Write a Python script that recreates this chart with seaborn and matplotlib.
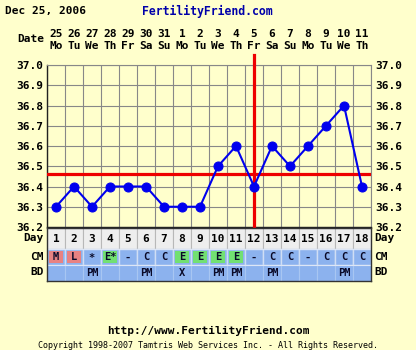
import matplotlib
matplotlib.use("Agg")
import matplotlib.pyplot as plt
import seaborn as sns
import numpy as np
import pandas as pd

# ---------------- data ----------------
days = list(range(1, 19))
dates = [25, 26, 27, 28, 29, 30, 31, 1, 2, 3, 4, 5, 6, 7, 8, 9, 10, 11]
weekdays = ["Mo", "Tu", "We", "Th", "Fr", "Sa", "Su", "Mo", "Tu", "We",
            "Th", "Fr", "Sa", "Su", "Mo", "Tu", "We", "Th"]
temps = [36.3, 36.4, 36.3, 36.4, 36.4, 36.4, 36.3, 36.3, 36.3, 36.5,
         36.6, 36.4, 36.6, 36.5, 36.6, 36.7, 36.8, 36.4]
cm = ["M", "L", "*", "E*", "-", "C", "C", "E", "E", "E", "E", "-",
      "C", "C", "-", "C", "C", "C"]
bd = ["", "", "PM", "", "", "PM", "", "X", "", "PM", "PM", "", "PM",
      "", "", "", "PM", ""]
coverline = 36.46
ovulation_day = 12
ytick_vals = [36.2, 36.3, 36.4, 36.5, 36.6, 36.7, 36.8, 36.9, 37.0]
title_date = "Dec 25, 2006"
site = "FertilityFriend.com"
footer_url = "http://www.FertilityFriend.com"
footer_copy = "Copyright 1998-2007 Tamtris Web Services Inc. - All Rights Reserved."

# ---------------- styling ----------------
BG = "#FFFFCC"
MONO = "DejaVu Sans Mono"
W, H = 416, 350
plt.rcParams["font.family"] = [MONO]

fig = plt.figure(figsize=(W / 100, H / 100), dpi=100)
fig.patch.set_facecolor(BG)

# main temperature chart
ax = fig.add_axes([47 / W, 1 - 227 / H, 324 / W, 162 / H])
ax.set_facecolor(BG)
df = pd.DataFrame({"day": days, "temp": temps})
sns.lineplot(data=df, x="day", y="temp", ax=ax, color="#0000EE",
             linewidth=1.5, marker="o", markersize=6.5,
             markeredgecolor="#0000EE", zorder=5)
ax.set_xlim(0.5, 18.5)
ax.set_ylim(36.2, 37.0)
ax.set_xlabel("")
ax.set_ylabel("")

ax.axhline(coverline, color="#EE0000", linewidth=2.3, zorder=4)
ax.axvline(ovulation_day, ymin=0, ymax=1 + 10 / 162, color="#EE0000",
           linewidth=2.3, zorder=4, clip_on=False)

ax.set_yticks(ytick_vals)
ax.set_yticklabels([f"{v:.1f}" for v in ytick_vals], fontsize=8,
                   fontweight="bold", family=MONO)
ax.tick_params(axis="y", which="both", length=0, pad=3,
               labelleft=True, labelright=True)
ax.set_xticks(days)
ax.set_xticklabels([f"{d}\n{w}" for d, w in zip(dates, weekdays)],
                   fontsize=8, fontweight="bold", family=MONO,
                   linespacing=1.3)
ax.xaxis.tick_top()
ax.tick_params(axis="x", which="both", length=0, pad=10)
ax.set_xticks(np.arange(0.5, 19, 1), minor=True)
ax.grid(which="minor", axis="x", color="#888888", linewidth=0.8)
ax.grid(which="major", axis="y", color="#888888", linewidth=0.8)
ax.grid(which="major", axis="x", visible=False)
ax.set_axisbelow(True)
for s in ["top", "right"]:
    ax.spines[s].set_color("#888888")
    ax.spines[s].set_linewidth(0.8)
for s in ["left", "bottom"]:
    ax.spines[s].set_color("#222222")
    ax.spines[s].set_linewidth(1.0)

# table rows
tx = fig.add_axes([47 / W, 1 - 281 / H, 324 / W, 53 / H])
tx.set_xlim(0.5, 18.5)
tx.set_ylim(53, 0)
tx.set_facecolor("#EEEEEE")
tx.set_xticks([])
tx.set_yticks([])
for s in tx.spines.values():
    s.set_color("#333333")
    s.set_linewidth(1.0)

BLUE = "#8CB2EE"
cm_colors = {"M": "#E88282", "L": "#E88282", "E": "#72E072", "E*": "#72E072"}

tx.bar(days, 21, bottom=0, width=1, color="#EEEEEE", edgecolor="#B8B8B8",
       linewidth=0.8)
tx.bar(days, 16, bottom=21, width=1, color=BLUE, edgecolor="#D0DEF4",
       linewidth=1.0)
special = [i for i, c in enumerate(cm) if c in cm_colors]
tx.bar([days[i] for i in special], 12, bottom=23, width=0.82,
       color=[cm_colors[cm[i]] for i in special], linewidth=0)
tx.bar(days, 16, bottom=37, width=1, color=BLUE, edgecolor="#A8C6F2",
       linewidth=0.8)
tx.axhline(21, color="#DDE6F6", linewidth=0.8)
tx.axhline(37, color="#DDE6F6", linewidth=0.8)

for d, c, b in zip(days, cm, bd):
    tx.text(d, 11, str(d), ha="center", va="center", fontsize=8,
            fontweight="bold", family=MONO)
    tx.text(d, 29.5, c, ha="center", va="center", fontsize=7.5,
            fontweight="bold", family=MONO, color="#0A0A28")
    if b:
        tx.text(d, 45.5, b, ha="center", va="center", fontsize=7.5,
                fontweight="bold", family=MONO, color="#0A0A28")

# row labels
def fy(py):
    return 1 - py / H

for label, py in [("Day", 238), ("CM", 257), ("BD", 272)]:
    fig.text(44 / W, fy(py), label, ha="right", va="center", fontsize=8,
             fontweight="bold", family=MONO)
    fig.text(374 / W, fy(py), label, ha="left", va="center", fontsize=8,
             fontweight="bold", family=MONO)
fig.text(44 / W, fy(39), "Date", ha="right", va="center", fontsize=8,
         fontweight="bold", family=MONO)

# header
fig.text(5 / W, fy(11), title_date, ha="left", va="center", fontsize=8,
         fontweight="bold", family=MONO)
fig.text(142 / W, fy(11), site, ha="left", va="center", fontsize=8.3,
         fontweight="bold", family=MONO, color="#0000AA")

# footer
fig.text(0.5, fy(331), footer_url, ha="center", va="center", fontsize=8,
         fontweight="bold", family=MONO)
fig.text(0.5, fy(345), footer_copy, ha="center", va="center", fontsize=6,
         family=MONO)

fig.savefig("out.png", dpi=100, facecolor=BG)
